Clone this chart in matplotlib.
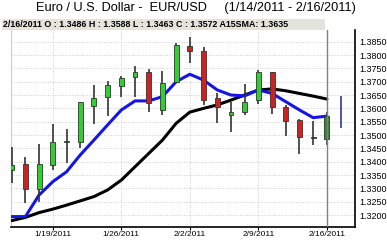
import matplotlib
matplotlib.use("Agg")
import matplotlib.pyplot as plt
from matplotlib.patches import Rectangle
import numpy as np

# daily EUR/USD candles, 1/14/2011 .. 2/16/2011
dates = ["1/14", "1/17", "1/18", "1/19", "1/20", "1/21", "1/24", "1/25", "1/26",
         "1/27", "1/28", "1/31", "2/1", "2/2", "2/3", "2/4", "2/7", "2/8", "2/9",
         "2/10", "2/11", "2/14", "2/15", "2/16"]
opens = [1.3369, 1.3391, 1.3296, 1.3388, 1.3474, 1.3475, 1.3609, 1.3644, 1.3685,
         1.3716, 1.3735, 1.3594, 1.3700, 1.3835, 1.3816, 1.3638, 1.3575, 1.3587,
         1.3631, 1.3735, 1.3604, 1.3556, 1.3491, 1.3486]
highs = [1.3456, 1.3416, 1.3465, 1.3540, 1.3523, 1.3625, 1.3688, 1.3704, 1.3723,
         1.3759, 1.3748, 1.3740, 1.3844, 1.3869, 1.3831, 1.3656, 1.3625, 1.3691,
         1.3744, 1.3737, 1.3613, 1.3559, 1.3554, 1.3588]
lows = [1.3319, 1.3246, 1.3250, 1.3369, 1.3394, 1.3450, 1.3541, 1.3572, 1.3644,
        1.3644, 1.3587, 1.3575, 1.3700, 1.3769, 1.3613, 1.3546, 1.3512, 1.3575,
        1.3616, 1.3579, 1.3496, 1.3429, 1.3463, 1.3463]
closes = [1.3387, 1.3296, 1.3390, 1.3473, 1.3477, 1.3623, 1.3638, 1.3688, 1.3715,
          1.3735, 1.3621, 1.3694, 1.3838, 1.3816, 1.3631, 1.3604, 1.3587, 1.3625,
          1.3735, 1.3604, 1.3554, 1.3491, 1.3489, 1.3572]
fast_ma = [1.3194, 1.3194, 1.3275, 1.3325, 1.3362, 1.3425, 1.3481, 1.3538, 1.3594,
           1.3628, 1.3628, 1.3644, 1.3700, 1.3728, 1.3706, 1.3669, 1.3650, 1.3647,
           1.3669, 1.3656, 1.3625, 1.3594, 1.3565, 1.3571]
sma15 = [1.3179, 1.3191, 1.3209, 1.3222, 1.3237, 1.3253, 1.3269, 1.3294, 1.3331,
         1.3381, 1.3431, 1.3481, 1.3544, 1.3586, 1.3600, 1.3613, 1.3631, 1.3650,
         1.3669, 1.3673, 1.3666, 1.3656, 1.3646, 1.3635]
next_bar = (1.3646, 1.3527)
label_idx = [3, 8, 13, 18, 23]
yticks = np.arange(1.3200, 1.38501, 0.005)

fig = plt.figure(figsize=(3.87, 2.40), dpi=100)
ax = fig.add_axes([11/387, 13/240, 344/387, 197/240])
font = "Liberation Sans"

x = np.arange(len(dates))
ax.set_xlim(-0.05, 25.05)
ax.set_ylim(1.3155, 1.3894)

ax.set_yticks(yticks)
ax.set_xticks(label_idx)
ax.set_xticklabels([dates[i] + "/2011" for i in label_idx])
ax.grid(True, color="#cfcfcf", linestyle=(0, (1, 1.5)), linewidth=0.7)
ax.set_axisbelow(True)

ax.plot(x, sma15, color="black", lw=2.2, solid_joinstyle="round",
        solid_capstyle="round", zorder=3)
ax.plot(x, fast_ma, color="#1515e6", lw=2.2, solid_joinstyle="round",
        solid_capstyle="round", zorder=3)

for i in x:
    o, h, l, c = opens[i], highs[i], lows[i], closes[i]
    ax.vlines(i, l, h, color="#333333", lw=1.2, zorder=4)
    up = c >= o
    col = "#33cc33" if up else "#cc2222"
    if i == len(dates) - 1:
        col = "#2d8a2d"
    bottom = min(o, c)
    height = max(abs(c - o), 0.00015)
    ax.bar(i, height, 0.36, bottom=bottom, color=col, edgecolor="#333333",
           linewidth=0.6, zorder=5)

ax.axvline(len(dates) - 1, color="#808080", lw=1.0, zorder=6)
ax.vlines(len(dates), next_bar[1], next_bar[0], color="#2a3aa0", lw=1.2, zorder=4)

ax.yaxis.tick_right()
ax.tick_params(axis="y", length=0, pad=3, labelsize=6.5)
ax.tick_params(axis="x", length=2, pad=1, labelsize=6)
for t in ax.get_yticklabels() + ax.get_xticklabels():
    t.set_fontfamily(font)
ax.yaxis.set_major_formatter(matplotlib.ticker.FormatStrFormatter("%.4f"))

ax.spines["top"].set_visible(False)
ax.spines["left"].set_color("#cccccc")
ax.spines["bottom"].set_color("black")
ax.spines["right"].set_color("black")
ax.spines["bottom"].set_linewidth(1.2)
ax.spines["right"].set_linewidth(1.2)

fig.text(196/387, 1 - 8.5/240, "Euro / U.S. Dollar -  EUR/USD     (1/14/2011 - 2/16/2011)",
         ha="center", va="center", fontsize=9.2, family=font)
fig.patches.append(Rectangle((2/387, 1 - 30/240), 323/387, 11/240,
                             transform=fig.transFigure, facecolor="#e4e4dc",
                             edgecolor="none"))
fig.text(3/387, 1 - 24.5/240,
         "2/16/2011 O : 1.3486 H : 1.3588 L : 1.3463 C : 1.3572 A15SMA: 1.3635",
         ha="left", va="center", fontsize=6.4, fontweight="bold", family=font)

fig.savefig("out.png", dpi=100)
